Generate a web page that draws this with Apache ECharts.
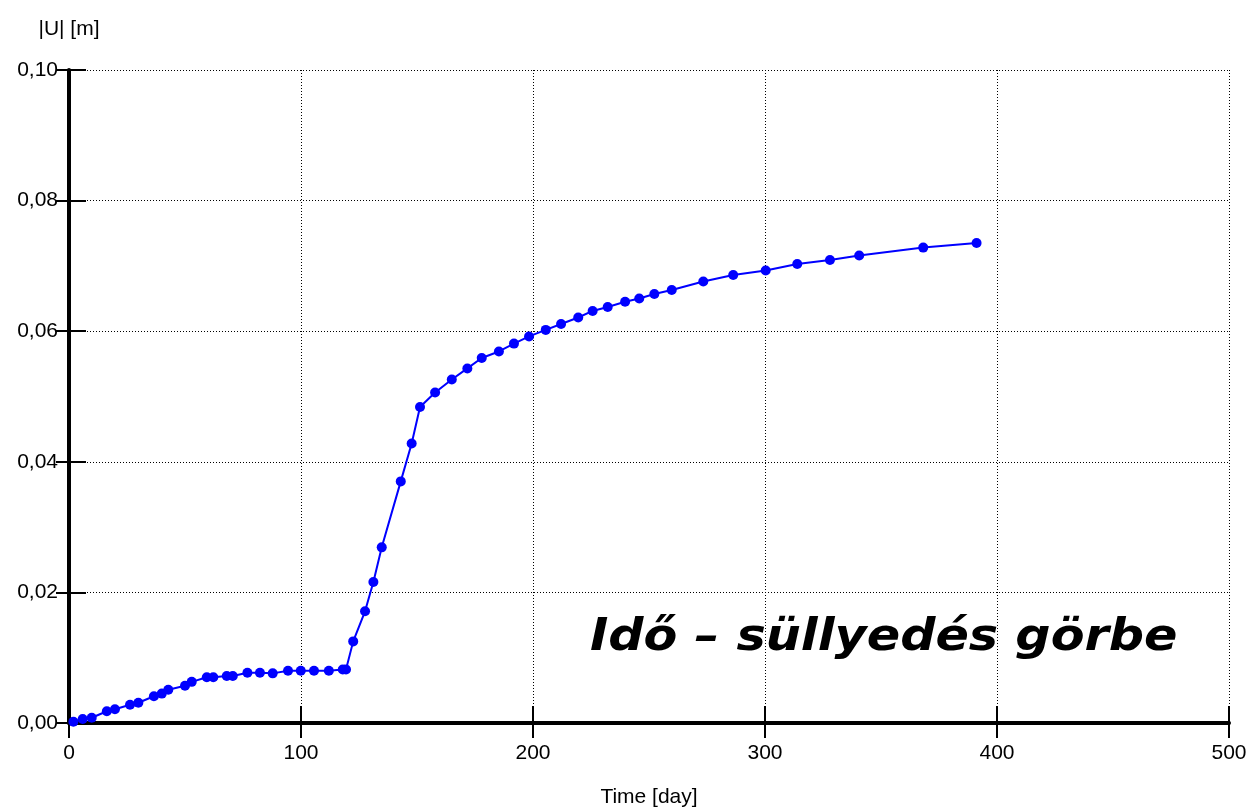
<!DOCTYPE html>
<html>
<head>
<meta charset="utf-8">
<title>Idő – süllyedés görbe</title>
<script src="https://cdn.jsdelivr.net/npm/echarts@6/dist/echarts.min.js"></script>
<style>
  html, body { margin: 0; padding: 0; background: #fff; }
  #chart { width: 1249px; height: 811px; }
</style>
</head>
<body>
<div id="chart"></div>
<script>
// time [day] and settlement |U| [m]
const days = [
  1.9, 5.9, 9.8, 16.3, 19.8, 26.3, 29.9, 36.6, 40, 42.8,
  50, 52.9, 59.4, 62.2, 68, 70.6, 76.9, 82.3, 87.8, 94.4,
  99.9, 105.6, 112, 118, 119.4, 122.5, 127.6, 131.2, 134.8, 143,
  147.7, 151.3, 157.8, 165, 171.7, 177.9, 185.3, 191.8, 198.3, 205.5,
  212.1, 219.5, 225.7, 232.2, 239.7, 245.8, 252.3, 259.8, 273.4, 286.3,
  300.3, 313.9, 328, 340.6, 368.2, 391.2
]
const settlement = [
  0.0002, 0.0006, 0.0008, 0.0018, 0.0021, 0.0028, 0.0031, 0.0041, 0.0045, 0.0051,
  0.0057, 0.0063, 0.0070, 0.0070, 0.0072, 0.0072, 0.0077, 0.0077, 0.0076, 0.0080,
  0.0080, 0.0080, 0.0080, 0.0082, 0.0082, 0.0125, 0.0171, 0.0216, 0.0269, 0.0370,
  0.0428, 0.0484, 0.0506, 0.0526, 0.0543, 0.0559, 0.0569, 0.0581, 0.0592, 0.0602,
  0.0611, 0.0621, 0.0631, 0.0637, 0.0645, 0.0650, 0.0657, 0.0663, 0.0676, 0.0686,
  0.0693, 0.0703, 0.0709, 0.0716, 0.0728, 0.0735
]
const xTicks = [0, 100, 200, 300, 400, 500]
const yTicks = [0, 0.02, 0.04, 0.06, 0.08, 0.10]

const chartTitle = 'Idő – süllyedés görbe'
const xName = 'Time [day]'
const yName = '|U| [m]'

const font = 'Liberation Sans, Arial, sans-serif'
const fmtY = v => v.toFixed(2).replace('.', ',')

const chart = echarts.init(document.getElementById('chart'))

const xBase = {
  type: 'value',
  min: xTicks[0],
  max: xTicks[xTicks.length - 1],
  interval: xTicks[1] - xTicks[0],
  position: 'bottom'
}
const yBase = {
  type: 'value',
  min: yTicks[0],
  max: yTicks[yTicks.length - 1],
  interval: yTicks[1] - yTicks[0],
  position: 'left'
}

const option = {
  animation: false,
  backgroundColor: '#fff',
  graphic: [{
    type: 'text',
    left: 590,
    top: 617,
    scaleX: 1.12,
    style: {
      text: chartTitle,
      font: 'italic bold 44px "DejaVu Sans", Verdana, sans-serif',
      fill: '#000'
    }
  }],
  grid: { left: 69, right: 20, top: 70, bottom: 88, outerBoundsMode: 'none', containLabel: false },
  xAxis: [
    Object.assign({}, xBase, {
      name: xName,
      nameLocation: 'middle',
      nameGap: 64,
      nameTextStyle: { color: '#000', fontFamily: font, fontSize: 21 },
      axisLine: { show: true, onZero: false, lineStyle: { color: '#000', width: 4 } },
      axisTick: { show: true, inside: false, length: 15, lineStyle: { color: '#000', width: 2 } },
      axisLabel: { color: '#000', fontFamily: font, fontSize: 21, margin: 20 },
      splitLine: { show: true, lineStyle: { color: '#000', width: 1, type: [1, 2] } }
    }),
    // second copy only draws the inner half of the ticks
    Object.assign({}, xBase, {
      axisLine: { show: false },
      axisTick: { show: true, inside: true, length: 17, lineStyle: { color: '#000', width: 2 } },
      axisLabel: { show: false },
      splitLine: { show: false }
    })
  ],
  yAxis: [
    Object.assign({}, yBase, {
      name: yName,
      nameLocation: 'end',
      nameGap: 30,
      nameTextStyle: { color: '#000', fontFamily: font, fontSize: 21, align: 'center' },
      axisLine: { show: true, onZero: false, lineStyle: { color: '#000', width: 4 } },
      axisTick: { show: true, inside: false, length: 13, lineStyle: { color: '#000', width: 2 } },
      axisLabel: { color: '#000', fontFamily: font, fontSize: 21, margin: 11, formatter: fmtY },
      splitLine: { show: true, lineStyle: { color: '#000', width: 1, type: [1, 2] } }
    }),
    Object.assign({}, yBase, {
      axisLine: { show: false },
      axisTick: { show: true, inside: true, length: 17, lineStyle: { color: '#000', width: 2 } },
      axisLabel: { show: false },
      splitLine: { show: false }
    })
  ],
  series: [{
    type: 'line',
    xAxisIndex: 0,
    yAxisIndex: 0,
    data: days.map((d, i) => [d, settlement[i]]),
    symbol: 'circle',
    symbolSize: 10,
    showAllSymbol: true,
    lineStyle: { color: '#0000ff', width: 2 },
    itemStyle: { color: '#0000ff' },
    z: 5
  }]
}

chart.setOption(option)
</script>
</body>
</html>
